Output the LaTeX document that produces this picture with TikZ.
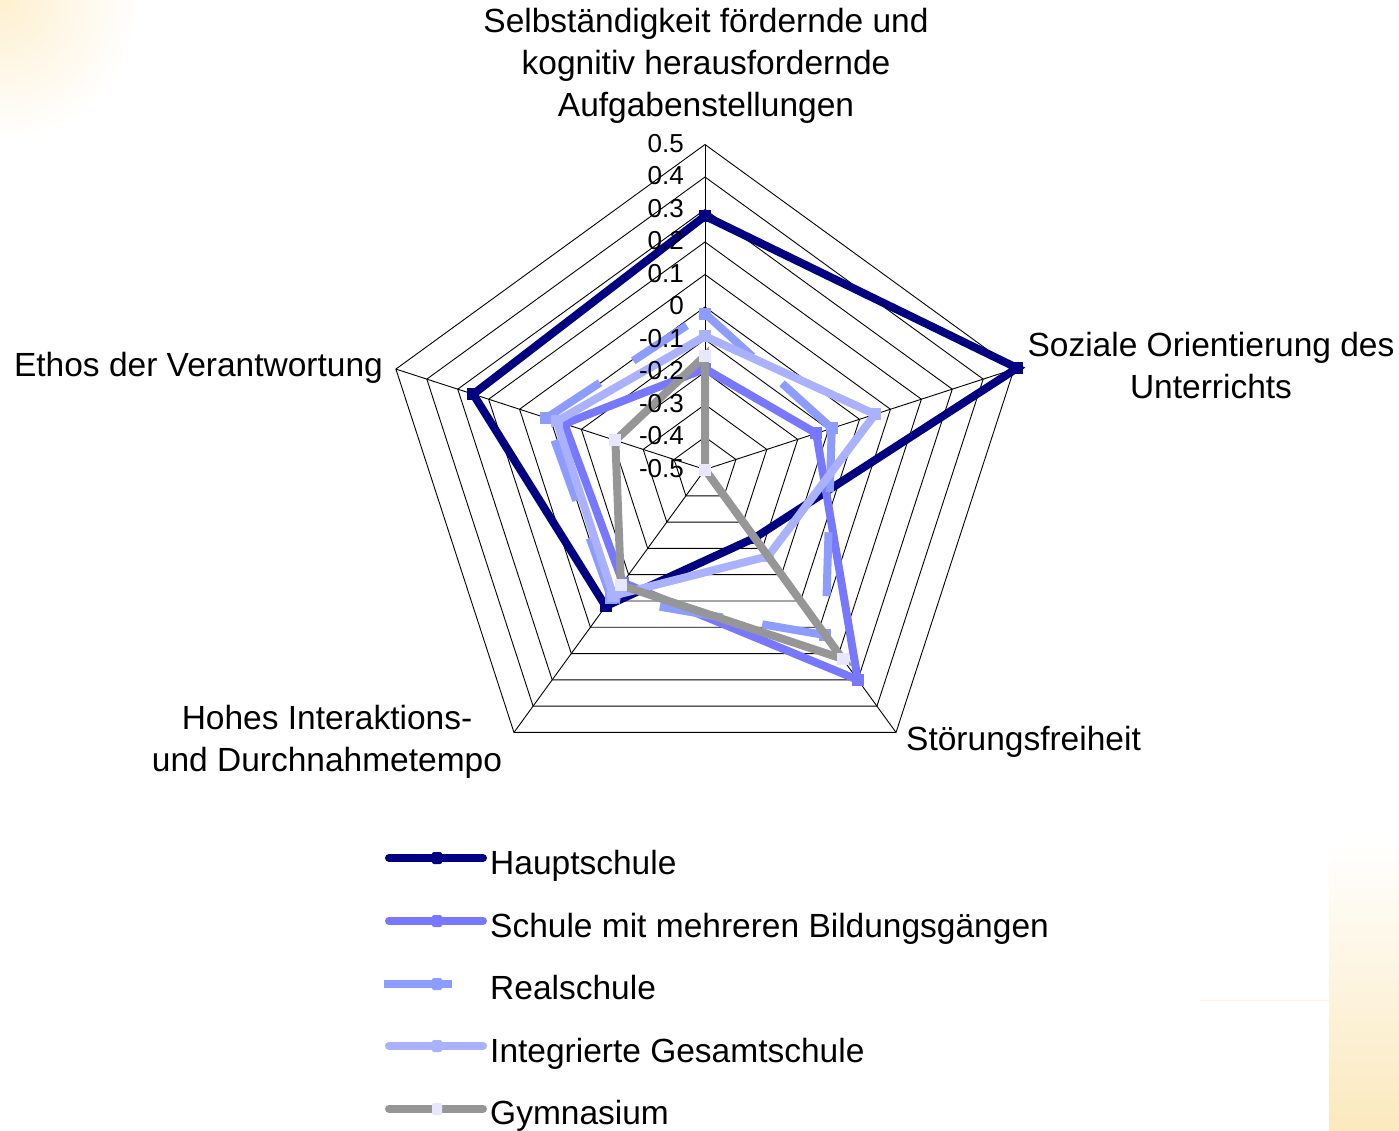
\documentclass[tikz,border=0pt]{standalone}
\usepackage{fontspec}
\setmainfont{Liberation Sans}
\definecolor{cHS}{RGB}{0,0,128}
\definecolor{cSM}{RGB}{120,120,255}
\definecolor{cRS}{RGB}{140,156,255}
\definecolor{cIG}{RGB}{170,178,255}
\definecolor{cGY}{RGB}{150,150,150}
\definecolor{cGYm}{RGB}{232,230,255}
\definecolor{bgA}{RGB}{254,240,208}
\definecolor{bgB}{RGB}{251,233,190}
\definecolor{bgL}{RGB}{253,243,222}
\newcommand\radarpts[6]{%
  \coordinate (#1p0) at (90:{325*(#2+0.5)});
  \coordinate (#1p1) at (18:{325*(#3+0.5)});
  \coordinate (#1p2) at (-54:{325*(#4+0.5)});
  \coordinate (#1p3) at (-126:{325*(#5+0.5)});
  \coordinate (#1p4) at (162:{325*(#6+0.5)});
}
\begin{document}
\begin{tikzpicture}[x=1pt,y=-1pt,
  font=\fontsize{33.5}{42}\selectfont,
  gridline/.style={black,line width=0.9pt},
  ser/.style={line width=8pt,draw=#1,line join=miter},
  dser/.style={line width=8pt,draw=#1,dash pattern=on 64pt off 40pt},
  mk/.style={rectangle,fill=#1,minimum size=12pt,inner sep=0pt},
  lmk/.style={rectangle,fill=#1,minimum width=10pt,minimum height=12pt,inner sep=0pt,rounded corners=2pt},
  ticklab/.style={font=\fontsize{26}{30}\selectfont,anchor=east,inner sep=0pt},
  catlab/.style={align=center,inner sep=0pt},
  legtext/.style={anchor=base west,inner sep=0pt},
]
\useasboundingbox (0,0) rectangle (1399,1130);
% background
\begin{scope}
  \clip (0,0) rectangle (1399,1130);
  \shade[inner color=bgA,outer color=white] (0,0) circle (140);
\end{scope}
\shade[top color=white,bottom color=bgB] (1329,840) rectangle (1399,1130);
\draw[bgL,line width=1pt] (1200,1000) -- (1329,1000);

% radar
\begin{scope}[shift={(705,469.5)},yscale=-1]
  \coordinate (c) at (0,0);
  \foreach \a [count=\k from 0] in {90,18,-54,-126,162}
    \coordinate (ax\k) at (\a:325);
  \foreach \i in {1,...,10}
    \draw[gridline] (90:{32.5*\i}) -- (18:{32.5*\i}) -- (-54:{32.5*\i})
      -- (-126:{32.5*\i}) -- (162:{32.5*\i}) -- cycle;
  \foreach \k in {0,...,4}
    \draw[gridline] (c) -- (ax\k);

  \radarpts{H}{0.28}{0.51}{-0.24}{0.02}{0.25}
  \radarpts{S}{-0.19}{-0.14}{0.30}{-0.07}{-0.045}
  \radarpts{R}{-0.02}{-0.09}{0.13}{-0.01}{0.013}
  \radarpts{I}{-0.09}{0.05}{-0.17}{-0.02}{-0.02}
  \radarpts{G}{-0.15}{-0.5}{0.22}{-0.06}{-0.21}

  % Hauptschule
  \draw[ser=cHS] (Hp0) -- (Hp1) -- (Hp2) -- (Hp3) -- (Hp4) -- cycle;
  \foreach \k in {0,...,4} \node[mk=cHS] (Hm\k) at (Hp\k) {};
  % Schule mit mehreren Bildungsgaengen
  \draw[ser=cSM] (Sp0) -- (Sp1) -- (Sp2) -- (Sp3) -- (Sp4) -- cycle;
  \foreach \k in {0,...,4} \node[mk=cSM] (Sm\k) at (Sp\k) {};
  % Realschule (dashed, pattern restarts per segment)
  \draw[dser=cRS] (Rp0) -- (Rp1);
  \draw[dser=cRS] (Rp1) -- (Rp2);
  \draw[dser=cRS] (Rp2) -- (Rp3);
  \draw[dser=cRS] (Rp3) -- (Rp4);
  \draw[dser=cRS] (Rp4) -- (Rp0);
  \foreach \k in {0,...,4} \node[mk=cRS] (Rm\k) at (Rp\k) {};
  % Integrierte Gesamtschule
  \draw[ser=cIG] (Ip0) -- (Ip1) -- (Ip2) -- (Ip3) -- (Ip4) -- cycle;
  \foreach \k in {0,...,4} \node[mk=cIG] (Im\k) at (Ip\k) {};
  % Gymnasium
  \draw[ser=cGY] (Gp0) -- (Gp1) -- (Gp2) -- (Gp3) -- (Gp4) -- cycle;
  \foreach \k in {0,...,4} \node[mk=cGYm] (Gm\k) at (Gp\k) {};
\end{scope}

% tick labels
\foreach \t [count=\k from 0] in {-0.5,-0.4,-0.3,-0.2,-0.1,0,0.1,0.2,0.3,0.4,0.5}
  \node[ticklab] (tk\k) at (684,{468.5-32.5*\k}) {\t};

% category labels (anchor base = baseline of last line)
\node[catlab,anchor=base] (lab0) at (706,116) {Selbständigkeit fördernde und\\kognitiv herausfordernde\\Aufgabenstellungen};
\node[catlab,anchor=base] (lab1) at (1211,398) {Soziale Orientierung des\\Unterrichts};
\node[anchor=base west,inner sep=0pt] (lab2) at (906,750) {Störungsfreiheit};
\node[catlab,anchor=base] (lab3) at (327,771) {Hohes Interaktions-\\und Durchnahmetempo};
\node[anchor=base east,inner sep=0pt] (lab4) at (383,376) {Ethos der Verantwortung};

% legend
\coordinate (lg1a) at (389,858); \coordinate (lg1b) at (483,858);
\draw[ser=cHS,line cap=round] (lg1a) -- (lg1b);
\node[lmk=cHS] (lgm1) at (437,858) {};
\node[legtext] (lgt1) at (490,874) {Hauptschule};

\coordinate (lg2a) at (389,921); \coordinate (lg2b) at (483,921);
\draw[ser=cSM,line cap=round] (lg2a) -- (lg2b);
\node[lmk=cSM] (lgm2) at (437,921) {};
\node[legtext] (lgt2) at (490,937) {Schule mit mehreren Bildungsgängen};

\coordinate (lg3a) at (384,984); \coordinate (lg3b) at (487,984);
\draw[line width=8pt,draw=cRS,dash pattern=on 68pt off 40pt] (lg3a) -- (lg3b);
\node[lmk=cRS] (lgm3) at (437,984) {};
\node[legtext] (lgt3) at (490,999) {Realschule};

\coordinate (lg4a) at (389,1046); \coordinate (lg4b) at (483,1046);
\draw[ser=cIG,line cap=round] (lg4a) -- (lg4b);
\node[lmk=cIG] (lgm4) at (437,1046) {};
\node[legtext] (lgt4) at (490,1062) {Integrierte Gesamtschule};

\coordinate (lg5a) at (389,1109); \coordinate (lg5b) at (483,1109);
\draw[ser=cGY,line cap=round] (lg5a) -- (lg5b);
\node[lmk=cGYm] (lgm5) at (437,1109) {};
\node[legtext] (lgt5) at (490,1124) {Gymnasium};
\end{tikzpicture}
\end{document}
